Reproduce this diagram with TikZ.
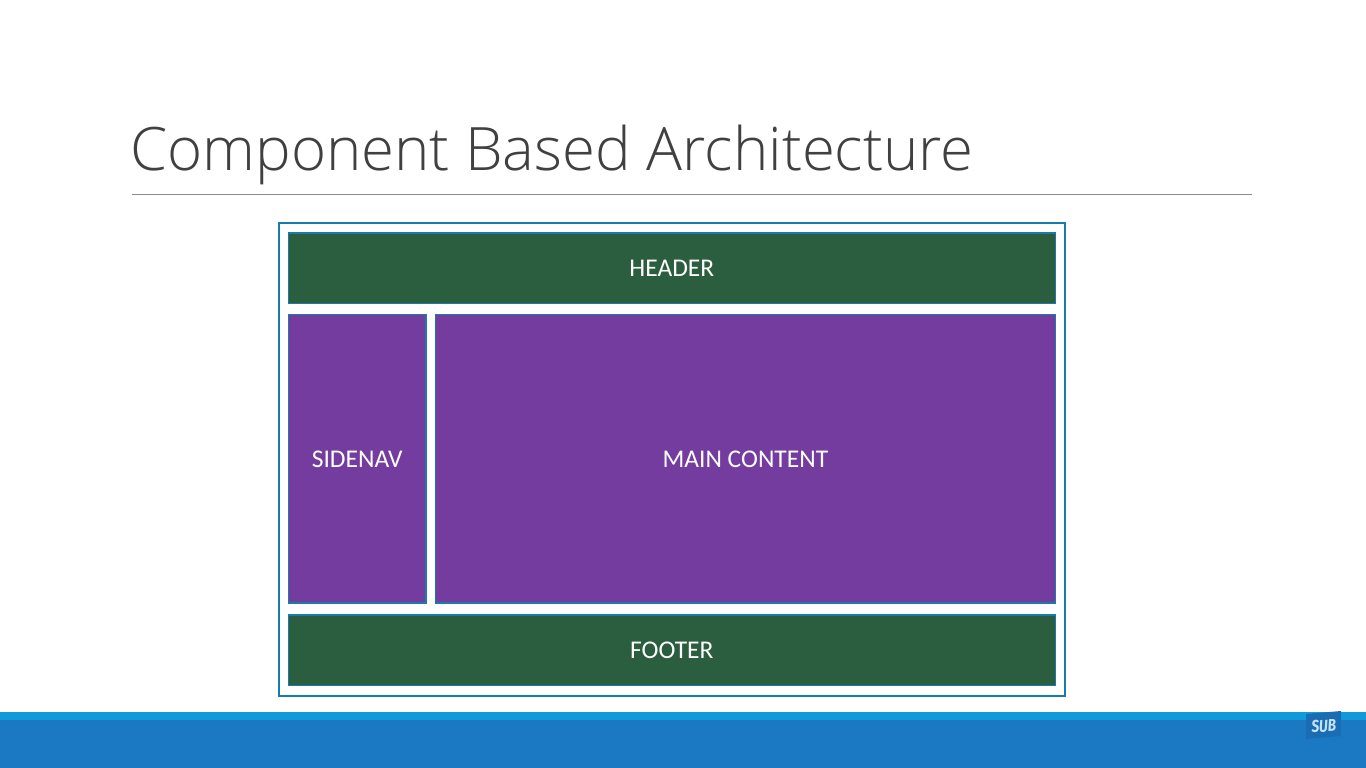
\documentclass[tikz,border=0pt]{standalone}
\usepackage{fontspec}
\setmainfont{Carlito}
\newfontfamily\titlefont{Open Sans Light}
\newfontfamily\subfont{Fira Sans}
\definecolor{panelgreen}{HTML}{2A5E3E}
\definecolor{panelpurple}{HTML}{743C9F}
\definecolor{panelline}{HTML}{1A7AA8}
\definecolor{bandlight}{HTML}{1199DA}
\definecolor{banddark}{HTML}{1B79C3}
\definecolor{badge}{HTML}{1A6DB2}
\definecolor{badgetext}{HTML}{C4E2F7}
\tikzset{
  x=1pt,y=-1pt,
  panel/.style={draw=panelline,line width=1.3pt},
}
\newcommand{\panelbox}[7]{% name, x0,y0,x1,y1, colour, text
  \path[panel,fill=#6] (#2,#3) rectangle (#4,#5);
  \node[text=white,font=\fontsize{25.5}{27}\selectfont,inner sep=0pt] (#1) at ({(#2+#4)/2},{(#3+#5)/2+0.6}) {#7};
}
\begin{document}
\begin{tikzpicture}
\useasboundingbox (0,0) rectangle (1366,768);
\fill[white] (0,0) rectangle (1366,768);
\node[anchor=base west,inner sep=0pt,text=black!75,font=\titlefont\fontsize{59.9}{64}\selectfont] (title) at (130,170) {Component Based Architecture};
\coordinate (ruleL) at (132,194.5);
\coordinate (ruleR) at (1252,194.5);
\draw[black!45,line width=0.9pt] (ruleL) -- (ruleR);
\draw[panelline,line width=1.8pt,fill=white] (279,223) rectangle (1065.2,696);
\panelbox{header}{288.5}{233}{1055.2}{303.3}{panelgreen}{HEADER}
\panelbox{sidenav}{288.5}{314.5}{426}{603}{panelpurple}{SIDENAV}
\panelbox{main}{435.5}{314.5}{1055.2}{603}{panelpurple}{MAIN CONTENT}
\panelbox{footer}{288.5}{615}{1055.2}{685.3}{panelgreen}{FOOTER}
\fill[bandlight] (0,712) rectangle (1366,719.5);
\fill[banddark] (0,719.5) rectangle (1366,768);
\fill[badge] (1306,714) -- (1341,711) -- (1341,736) -- (1306,739) -- cycle;
\node[text=badgetext,inner sep=0pt,rotate=3,xscale=0.88,yscale=1.1,font=\subfont\bfseries\itshape\fontsize{15.5}{16}\selectfont] (sub) at (1323.8,726) {SUB};
\end{tikzpicture}
\end{document}
